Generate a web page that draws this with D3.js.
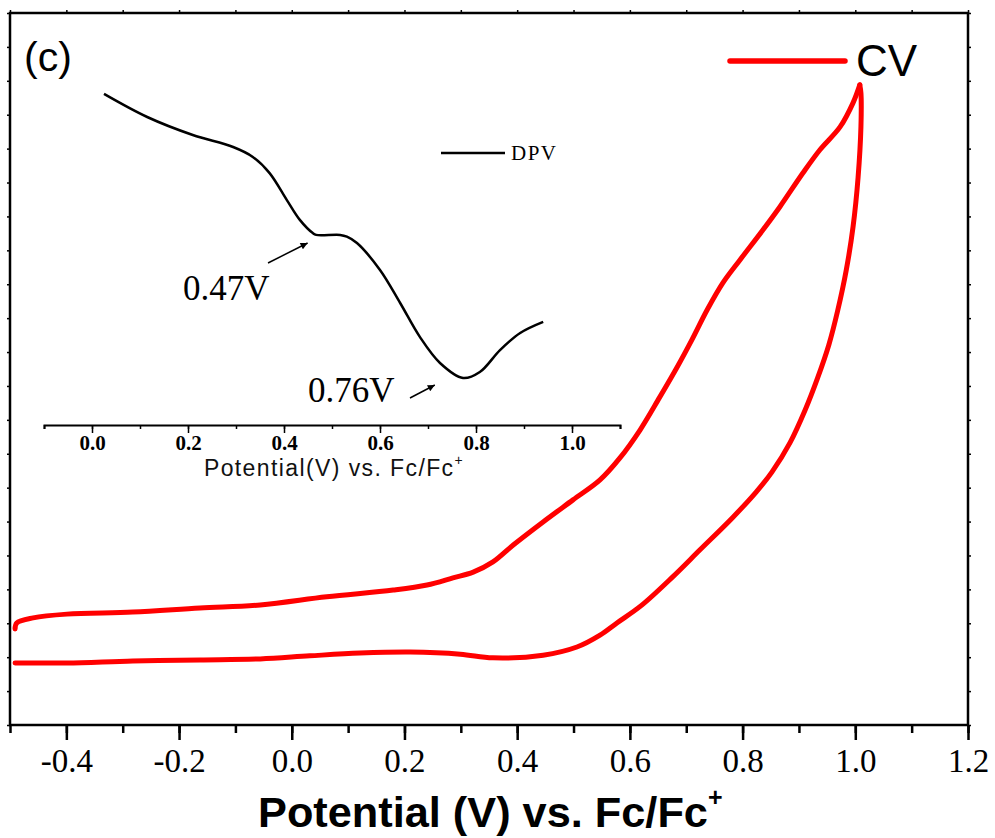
<!DOCTYPE html>
<html><head><meta charset="utf-8">
<script src="https://cdn.jsdelivr.net/npm/d3@7"></script>
<style>body{margin:0;background:#fff}</style>
</head><body>
<svg id="c" width="995" height="838"></svg>
<script>
// ---- Data ----
const xTickLabels = ["-0.4","-0.2","0.0","0.2","0.4","0.6","0.8","1.0","1.2"];
const insetTickLabels = ["0.0","0.2","0.4","0.6","0.8","1.0"];
// CV forward (anodic) scan
const cvFwdV = [-0.491,-0.488,-0.459,-0.399,-0.282,-0.163,-0.056,0.062,0.180,0.240,0.286,0.322,0.357,0.393,0.446,0.499,0.547,0.582,0.618,0.653,0.683,0.710,0.737,0.765,0.795,0.836,0.866,0.907,0.937,0.973,0.996,1.008];
const cvFwdI = [2.83,3.01,3.16,3.27,3.33,3.45,3.54,3.78,3.98,4.13,4.34,4.51,4.81,5.31,5.99,6.64,7.23,7.87,8.70,9.67,10.53,11.36,12.24,13.04,13.71,14.60,15.28,16.28,16.96,17.64,18.35,18.88];
// CV reverse scan
const cvRevV = [1.008,1.010,1.010,1.005,0.996,0.984,0.969,0.953,0.933,0.911,0.884,0.852,0.824,0.783,0.724,0.676,0.620,0.577,0.547,0.506,0.446,0.357,0.299,0.210,0.121,0.032,-0.056,-0.163,-0.282,-0.399,-0.491];
const cvRevI = [18.88,18.64,17.64,16.16,14.69,13.42,12.24,11.21,10.23,9.29,8.32,7.46,6.87,6.13,5.16,4.37,3.52,3.01,2.65,2.30,2.06,1.98,2.09,2.15,2.12,2.04,1.95,1.92,1.89,1.83,1.83];
// DPV inset
const dpvV = [0.025,0.115,0.210,0.294,0.335,0.370,0.406,0.433,0.460,0.467,0.517,0.531,0.552,0.600,0.642,0.683,0.725,0.773,0.808,0.850,0.892,0.940];
const dpvI = [0.987,0.910,0.850,0.810,0.777,0.723,0.633,0.567,0.523,0.517,0.517,0.511,0.490,0.400,0.290,0.177,0.090,0.040,0.060,0.133,0.190,0.227];
const annotations = [{label:"0.47V", v:0.47}, {label:"0.76V", v:0.76}];

// ---- Main chart ----
const svg = d3.select("#c");
const L = 10, R = 968, T = 13, B = 725;
const x = d3.scaleLinear().domain([-0.5, 1.2]).range([L, R]);
const y = d3.scaleLinear().domain([0, 21]).range([B, T]);

const serif = "'Liberation Serif','Times New Roman',serif";
const sans = "'Liberation Sans',Arial,sans-serif";

// bottom axis
const minorX = d3.range(-5, 13).map(d => d / 10);
const gB = svg.append("g").attr("transform", `translate(0,${B})`);
gB.append("g").call(d3.axisBottom(x).tickValues(minorX).tickSize(8).tickFormat(""))
  .call(g => g.select(".domain").remove())
  .call(g => g.selectAll("line").attr("stroke","#000").attr("stroke-width",2.5));
gB.append("g").call(d3.axisBottom(x).tickValues(xTickLabels.map(Number)).tickSize(15).tickPadding(9)
    .tickFormat((d,i) => xTickLabels[i]))
  .call(g => g.select(".domain").remove())
  .call(g => g.selectAll("line").attr("stroke","#000").attr("stroke-width",2.5))
  .call(g => g.selectAll("text").attr("font-family", serif).attr("font-size", 33).attr("fill","#000").attr("dy","0.71em"));

// top axis small ticks
svg.append("g").attr("transform", `translate(0,${T})`)
  .call(d3.axisTop(x).tickValues(minorX).tickSize(3).tickFormat(""))
  .call(g => g.select(".domain").remove())
  .call(g => g.selectAll("line").attr("stroke","#000").attr("stroke-width",1.5));
// left / right small ticks
const yTicks = d3.range(0, 22);
svg.append("g").attr("transform", `translate(${L},0)`)
  .call(d3.axisLeft(y).tickValues(yTicks).tickSize(3).tickFormat(""))
  .call(g => g.select(".domain").remove())
  .call(g => g.selectAll("line").attr("stroke","#000").attr("stroke-width",1.5));
svg.append("g").attr("transform", `translate(${R},0)`)
  .call(d3.axisRight(y).tickValues(yTicks).tickSize(3).tickFormat(""))
  .call(g => g.select(".domain").remove())
  .call(g => g.selectAll("line").attr("stroke","#000").attr("stroke-width",1.5));

// frame
svg.append("rect").attr("x", L).attr("y", T).attr("width", R - L).attr("height", B - T)
  .attr("fill","none").attr("stroke","#000").attr("stroke-width",2.5);

// axis title
const title = svg.append("text").attr("x", 258).attr("y", 827)
  .attr("font-family", sans).attr("font-weight","bold").attr("font-size", 43.3).attr("fill","#000");
title.append("tspan").text("Potential (V) vs. Fc/Fc");
title.append("tspan").text("+").attr("font-size", 25).attr("dy", -21);

// (c)
svg.append("text").attr("x", 24).attr("y", 71).attr("font-family", sans).attr("font-size", 41).text("(c)");

// CV curves
const line = d3.line().x(d => x(d[0])).y(d => y(d[1])).curve(d3.curveCatmullRom.alpha(0.5));
const fwd = cvFwdV.map((v,i) => [v, cvFwdI[i]]);
const rev = cvRevV.map((v,i) => [v, cvRevI[i]]);
svg.append("path").datum(fwd).attr("d", line).attr("fill","none").attr("stroke","#ff0000")
  .attr("stroke-width",5).attr("stroke-linecap","round").attr("stroke-linejoin","round");
svg.append("path").datum(rev).attr("d", line).attr("fill","none").attr("stroke","#ff0000")
  .attr("stroke-width",5).attr("stroke-linecap","round").attr("stroke-linejoin","round");

// CV legend
svg.append("line").attr("x1",730).attr("x2",845).attr("y1",61).attr("y2",61)
  .attr("stroke","#ff0000").attr("stroke-width",5.5).attr("stroke-linecap","round");
svg.append("text").attr("x",856).attr("y",76).attr("font-family",sans).attr("font-size",44).text("CV");

// ---- Inset ----
const ix = d3.scaleLinear().domain([-0.1, 1.1]).range([44, 620]);
const iy = d3.scaleLinear().domain([0, 1]).range([390, 90]);
const iB = 425;
const gI = svg.append("g").attr("transform", `translate(0,${iB})`);
gI.append("g").call(d3.axisBottom(ix).tickValues(d3.range(-1, 12).map(d => d/10)).tickSize(4).tickFormat(""))
  .call(g => g.select(".domain").attr("stroke","#000").attr("stroke-width",2))
  .call(g => g.selectAll("line").attr("stroke","#000").attr("stroke-width",1.5));
gI.append("g").call(d3.axisBottom(ix).tickValues(insetTickLabels.map(Number)).tickSize(8).tickPadding(2)
    .tickFormat((d,i) => insetTickLabels[i]))
  .call(g => g.select(".domain").remove())
  .call(g => g.selectAll("line").attr("stroke","#000").attr("stroke-width",1.5))
  .call(g => g.selectAll("text").attr("font-family", serif).attr("font-weight","bold").attr("font-size", 21).attr("fill","#000").attr("dy","0.71em"));
const it = svg.append("text").attr("x", 334).attr("y", 476).attr("text-anchor","middle")
  .attr("font-family", sans).attr("font-size", 23).attr("letter-spacing", 1.4).attr("fill","#111");
it.append("tspan").text("Potential(V) vs. Fc/Fc");
it.append("tspan").text("+").attr("font-size", 14).attr("dy", -11);

const iline = d3.line().x(d => ix(d[0])).y(d => iy(d[1])).curve(d3.curveCatmullRom.alpha(0.5));
svg.append("path").datum(dpvV.map((v,i) => [v, dpvI[i]])).attr("d", iline)
  .attr("fill","none").attr("stroke","#000").attr("stroke-width",2.5).attr("stroke-linejoin","round");

// DPV legend
svg.append("line").attr("x1",441).attr("x2",505).attr("y1",153).attr("y2",153)
  .attr("stroke","#000").attr("stroke-width",2.5);
svg.append("text").attr("x",511).attr("y",160).attr("font-family",serif).attr("font-size",21)
  .attr("letter-spacing",1.5).text("DPV");

// annotations with arrows
svg.append("defs").append("marker").attr("id","ah").attr("viewBox","0 0 10 10")
  .attr("refX",10).attr("refY",5).attr("markerWidth",9).attr("markerHeight",7)
  .attr("markerUnits","userSpaceOnUse").attr("orient","auto")
  .append("path").attr("d","M0,0L10,5L0,10z").attr("fill","#000");
const annPos = [
  {tx:183, ty:300, ax1:268, ay1:263, ax2:ix(0.47)-10, ay2:243},
  {tx:308, ty:402, ax1:410, ay1:398, ax2:ix(0.76)-22, ay2:385}
];
annotations.forEach((a,i) => {
  const p = annPos[i];
  svg.append("text").attr("x",p.tx).attr("y",p.ty).attr("font-family",serif).attr("font-size",35).text(a.label);
  svg.append("line").attr("x1",p.ax1).attr("y1",p.ay1).attr("x2",p.ax2).attr("y2",p.ay2)
    .attr("stroke","#000").attr("stroke-width",1.5).attr("marker-end","url(#ah)");
});
</script>
</body></html>
